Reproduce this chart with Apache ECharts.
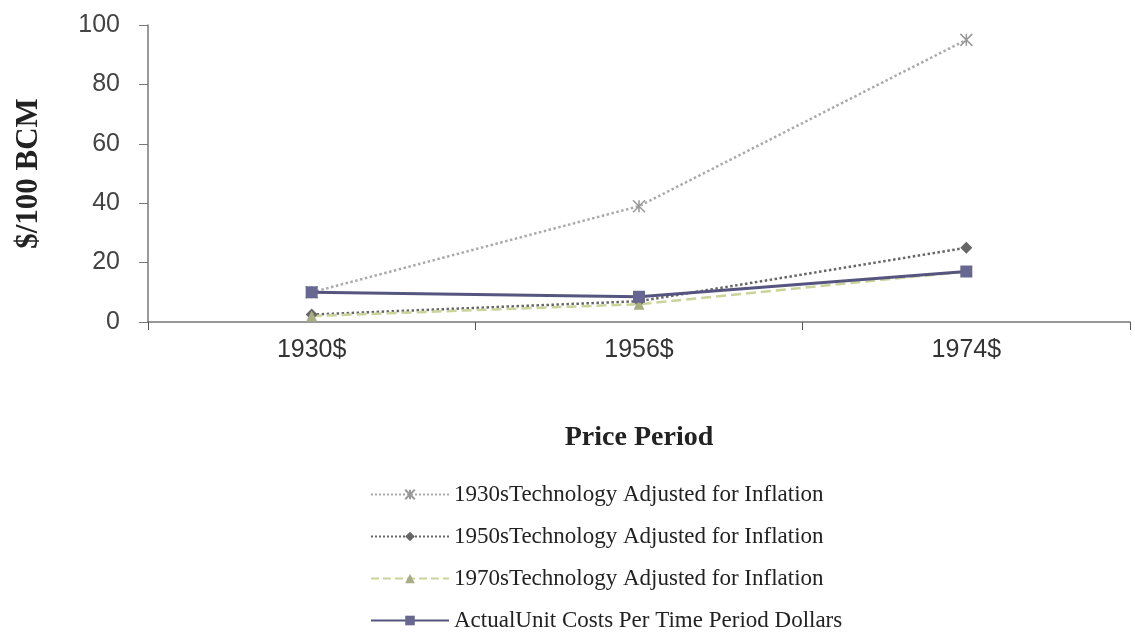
<!DOCTYPE html>
<html>
<head>
<meta charset="utf-8">
<script src="https://cdn.jsdelivr.net/npm/echarts@6/dist/echarts.min.js"></script>
<style>
  html, body { margin: 0; padding: 0; background: #fff; }
  #chart { width: 1135px; height: 641px; }
</style>
</head>
<body>
<div id="chart"></div>
<script>
  // data
  var categories = ['1930$', '1956$', '1974$'];
  var tech1930s = [10, 39, 95];
  var tech1950s = [2.5, 7, 25];
  var tech1970s = [2, 6, 17];
  var actualCosts = [10, 8.5, 17];
  var seriesNames = [
    '1930sTechnology Adjusted for Inflation',
    '1950sTechnology Adjusted for Inflation',
    '1970sTechnology Adjusted for Inflation',
    'ActualUnit Costs Per Time Period Dollars'
  ];

  var serif = '"Liberation Serif", "DejaVu Serif", serif';
  var sans = '"Liberation Sans", Arial, sans-serif';
  var crossPath = 'path://M0,0L10,10M10,0L0,10M5,0L5,10';

  var myChart = echarts.init(document.getElementById('chart'));
  var option = {
    animation: false,
    backgroundColor: '#fff',
    grid: { left: 148, right: 5, top: 25, bottom: 319 },
    xAxis: {
      type: 'category',
      data: categories,
      name: 'Price Period',
      nameLocation: 'middle',
      nameGap: 102,
      nameTextStyle: { fontFamily: serif, fontWeight: 'bold', fontSize: 28, color: '#222' },
      axisLine: { lineStyle: { color: '#777', width: 1.5 } },
      axisTick: { show: true, length: 8, lineStyle: { color: '#555' } },
      axisLabel: { fontFamily: sans, fontSize: 25, color: '#333', margin: 16 }
    },
    yAxis: {
      type: 'value',
      min: 0, max: 100, interval: 20,
      name: '$/100 BCM',
      nameLocation: 'middle',
      nameGap: 104,
      nameTextStyle: { fontFamily: serif, fontWeight: 'bold', fontSize: 31, color: '#222' },
      splitLine: { show: false },
      axisLine: { show: true, lineStyle: { color: '#777', width: 1.5 } },
      axisTick: { show: true, length: 9, lineStyle: { color: '#777' } },
      axisLabel: { fontFamily: sans, fontSize: 25, color: '#444', margin: 28 }
    },
    legend: {
      orient: 'vertical',
      left: 365,
      top: 478,
      itemGap: 19,
      itemWidth: 78,
      itemHeight: 12,
      textStyle: { fontFamily: serif, fontSize: 23, color: '#222' },
      data: seriesNames
    },
    series: [{
      name: seriesNames[0],
      type: 'line',
      data: tech1930s,
      symbol: crossPath,
      symbolSize: 12,
      lineStyle: { color: '#aaa', width: 2.5, type: 'dotted' },
      itemStyle: { color: '#999', borderColor: '#999', borderWidth: 1.5 }
    }, {
      name: seriesNames[1],
      type: 'line',
      data: tech1950s,
      symbol: 'diamond',
      symbolSize: 12,
      lineStyle: { color: '#666', width: 2.5, type: 'dotted' },
      itemStyle: { color: '#666' }
    }, {
      name: seriesNames[2],
      type: 'line',
      data: tech1970s,
      symbol: 'triangle',
      symbolSize: 11,
      lineStyle: { color: '#c9d39a', width: 2.5, type: 'dashed' },
      itemStyle: { color: '#a8ae82' }
    }, {
      name: seriesNames[3],
      type: 'line',
      data: actualCosts,
      symbol: 'rect',
      symbolSize: 12,
      lineStyle: { color: '#55557f', width: 3 },
      itemStyle: { color: '#67678f' }
    }]
  };
  myChart.setOption(option);
</script>
</body>
</html>
